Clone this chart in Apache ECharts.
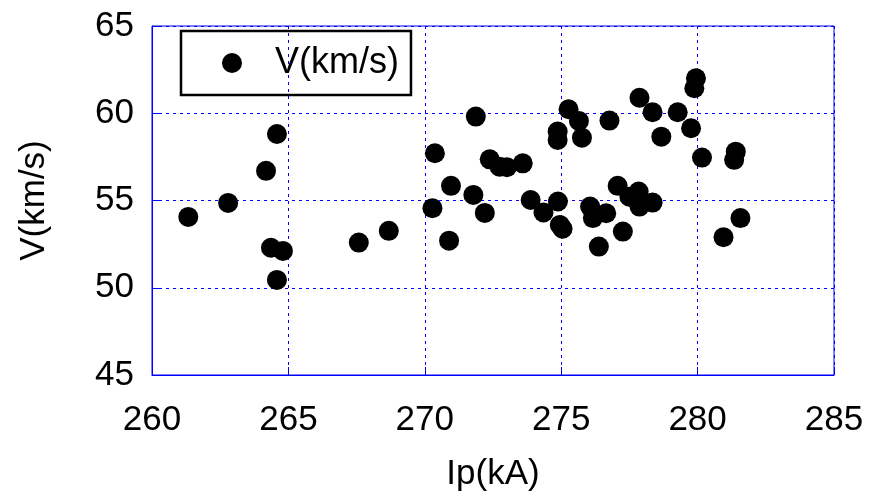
<!DOCTYPE html>
<html>
<head>
<meta charset="utf-8">
<script src="https://cdn.jsdelivr.net/npm/echarts@6/dist/echarts.min.js"></script>
<style>html,body{margin:0;padding:0;background:#fff}#c{width:872px;height:497px}</style>
</head>
<body>
<div id="c"></div>
<script>
const seriesName = 'V(km/s)';
const xName = 'Ip(kA)';
const yName = 'V(km/s)';
const ipValues = [261.33,262.79,264.18,264.58,264.36,264.80,264.58,267.58,268.68,270.37,270.28,270.96,270.89,271.87,271.78,272.20,272.38,272.74,273.01,273.59,273.88,274.35,274.88,274.95,275.05,275.27,275.65,274.87,274.87,275.76,276.77,276.06,276.16,276.65,276.38,277.07,277.26,277.87,278.35,278.67,279.27,279.76,279.94,279.88,280.16,281.40,281.34,281.57,280.95,277.84,278.35,277.87,277.50];
const vValues = [54.06,54.86,56.70,58.81,52.29,52.11,50.45,52.59,53.26,57.71,54.56,55.84,52.70,59.81,55.32,54.29,57.36,56.94,56.91,57.13,55.03,54.31,54.94,53.60,53.38,60.23,59.56,58.95,58.47,58.60,59.58,54.65,53.99,54.27,52.36,55.84,53.22,60.89,60.06,58.66,60.06,59.14,62.00,61.43,57.46,57.80,57.33,53.99,52.90,55.51,54.88,54.65,55.22];
const xTicks = [260,265,270,275,280,285];
const yTicks = [45,50,55,60,65];

const data = ipValues.map((x,i)=>[x,vValues[i]]);
const font = 'Liberation Sans, Arial, sans-serif';
const chart = echarts.init(document.getElementById('c'), null, {renderer:'canvas'});
chart.setOption({
  animation:false,
  backgroundColor:'#ffffff',
  textStyle:{fontFamily:font},
  grid:{left:152,right:38,top:26,bottom:122,show:true,borderColor:'#0000ff',borderWidth:1,backgroundColor:'transparent'},
  legend:{
    left:181, top:31,
    padding:[14,12,14,41],
    borderColor:'#000', borderWidth:2.5, borderRadius:0,
    icon:'circle', itemWidth:20, itemHeight:20,
    textStyle:{fontSize:36,color:'#000',fontFamily:font,padding:[0,0,0,28]},
    data:[seriesName]
  },
  xAxis:{
    type:'value', min:xTicks[0], max:xTicks[xTicks.length-1], interval:5,
    name:xName, nameLocation:'middle', nameGap:82,
    nameTextStyle:{fontSize:35,color:'#000',fontFamily:font},
    axisLine:{show:true,lineStyle:{color:'#0000ff',width:1}},
    axisTick:{show:true,inside:true,length:8,lineStyle:{color:'#0000ff'}},
    axisLabel:{fontSize:35,color:'#000',margin:28,fontFamily:font},
    splitLine:{show:true,lineStyle:{color:'#0000ff',type:[3,4],width:1}}
  },
  yAxis:{
    type:'value', min:yTicks[0], max:yTicks[yTicks.length-1], interval:5,
    name:yName, nameLocation:'middle', nameGap:100,
    nameTextStyle:{fontSize:35,color:'#000',fontFamily:font},
    axisLine:{show:true,lineStyle:{color:'#0000ff',width:1}},
    axisTick:{show:true,inside:true,length:8,lineStyle:{color:'#0000ff'}},
    axisLabel:{fontSize:35,color:'#000',margin:18,fontFamily:font},
    splitLine:{show:true,lineStyle:{color:'#0000ff',type:[3,4],width:1}}
  },
  series:[{
    name:seriesName, type:'scatter', data:data,
    symbol:'circle', symbolSize:20,
    itemStyle:{color:'#000',opacity:1}
  }]
});
</script>
</body>
</html>
